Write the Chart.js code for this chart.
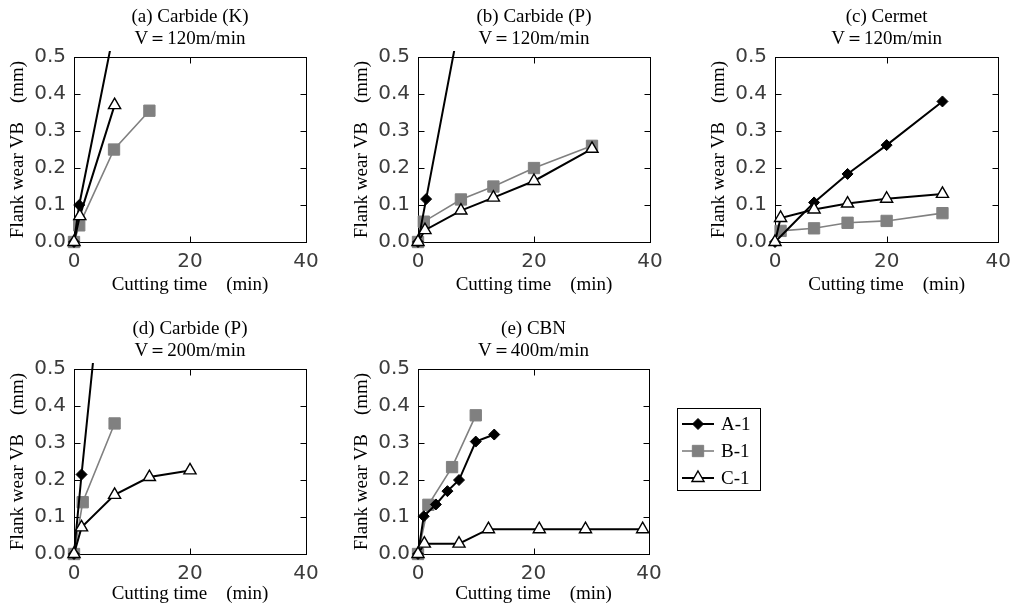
<!DOCTYPE html>
<html>
<head>
<meta charset="utf-8">
<script src="https://cdn.jsdelivr.net/npm/chart.js@4/dist/chart.umd.min.js"></script>
<style>
  html, body { margin: 0; padding: 0; background: #fff; overflow: hidden; }
  #page { position: relative; width: 1019px; height: 605px; }
  canvas { position: absolute; }
</style>
</head>
<body>
<div id="page">
  <canvas id="panelA" width="330" height="300" style="left:0px;top:0px"></canvas>
  <canvas id="panelB" width="340" height="300" style="left:340px;top:0px"></canvas>
  <canvas id="panelC" width="339" height="300" style="left:680px;top:0px"></canvas>
  <canvas id="panelD" width="330" height="300" style="left:0px;top:312px"></canvas>
  <canvas id="panelE" width="460" height="300" style="left:340px;top:312px"></canvas>
</div>
<script>
// axis ranges and tick labels
const timeTicks = [0, 20, 40];
const wearTicks = [0, 0.1, 0.2, 0.3, 0.4, 0.5];
const seriesNames = ['A-1', 'B-1', 'C-1'];

// (a) Carbide (K), V=120m/min
const aTimeA1 = [0, 0.9, 7];
const aWearA1 = [0, 0.10, 0.58];
const aTimeB1 = [0, 0.9, 6.9, 13];
const aWearB1 = [0, 0.045, 0.25, 0.355];
const aTimeC1 = [0, 1, 7];
const aWearC1 = [0, 0.07, 0.37];

// (b) Carbide (P), V=120m/min
const bTimeA1 = [0, 1.4, 7];
const bWearA1 = [0, 0.116, 0.58];
const bTimeB1 = [0, 1, 7.4, 13, 20, 30];
const bWearB1 = [0, 0.055, 0.115, 0.15, 0.2, 0.26];
const bTimeC1 = [0, 1.2, 7.4, 13, 20, 30];
const bWearC1 = [0, 0.032, 0.085, 0.12, 0.165, 0.252];

// (c) Cermet, V=120m/min
const cTimeA1 = [0, 7, 13, 20, 30];
const cWearA1 = [0, 0.107, 0.184, 0.262, 0.38];
const cTimeB1 = [1, 7, 13, 20, 30];
const cWearB1 = [0.03, 0.037, 0.052, 0.057, 0.078];
const cTimeC1 = [0, 1, 7, 13, 20, 30];
const cWearC1 = [0, 0.065, 0.088, 0.104, 0.117, 0.13];

// (d) Carbide (P), V=200m/min
const dTimeA1 = [0, 1.3, 7];
const dWearA1 = [0, 0.215, 1.09];
const dTimeB1 = [0, 1.5, 7];
const dWearB1 = [0, 0.14, 0.353];
const dTimeC1 = [0, 1.3, 7, 13, 20];
const dWearC1 = [0, 0.072, 0.16, 0.208, 0.226];

// (e) CBN, V=400m/min
const eTimeA1 = [0, 1, 3.1, 5.1, 7.1, 10, 13.2];
const eWearA1 = [0, 0.102, 0.134, 0.17, 0.2, 0.304, 0.323];
const eTimeB1 = [0, 1.8, 5.9, 10];
const eWearB1 = [0, 0.133, 0.235, 0.375];
const eTimeC1 = [0, 1.1, 7.1, 12.2, 21, 29, 38.9];
const eWearC1 = [0, 0.028, 0.028, 0.067, 0.067, 0.067, 0.067];

//marker and line look of each tool
const looks = {
  'A-1': { pointStyle: 'rectRot', radius: 5.5, fill: '#000', stroke: '#000', line: '#000', lineWidth: 2, pointBorder: 1, order: 1 },
  'B-1': { pointStyle: 'rect', radius: 8, fill: '#808080', stroke: '#808080', line: '#808080', lineWidth: 1.6, pointBorder: 1, order: 2 },
  'C-1': { pointStyle: 'triangle', radius: 7, fill: '#fff', stroke: '#000', line: '#000', lineWidth: 2, pointBorder: 1.4, order: 0 }
};

const serif = "'Liberation Serif', 'Times New Roman', serif";
const tickFont = { family: "'DejaVu Sans', sans-serif", size: 20, weight: 'normal' };
const labelFont = { family: serif, size: 19 };

const toPoints = (xs, ys) => xs.map((x, i) => ({ x: x, y: ys[i] }));

const makeDataset = (name, xs, ys) => {
  const l = looks[name];
  return {
    label: name,
    data: toPoints(xs, ys),
    borderColor: l.line,
    borderWidth: l.lineWidth,
    backgroundColor: l.fill,
    pointStyle: l.pointStyle,
    pointRadius: l.radius,
    pointBackgroundColor: l.fill,
    pointBorderColor: l.stroke,
    pointBorderWidth: l.pointBorder,
    tension: 0,
    order: l.order,
    clip: { left: 12, top: 6, right: 12, bottom: 12 }
  };
};

//box round the plot with inward ticks on all four sides
const framePlugin = {
  id: 'frame',
  beforeDatasetsDraw(chart) {
    const { ctx, chartArea: a, scales: { x, y } } = chart;
    const left = Math.round(a.left) + 0.5, right = Math.round(a.right) + 0.5;
    const top = Math.round(a.top) + 0.5, bottom = Math.round(a.bottom) + 0.5;
    ctx.save();
    ctx.strokeStyle = '#000';
    ctx.lineWidth = 1;
    ctx.strokeRect(left, top, right - left, bottom - top);
    ctx.beginPath();
    x.ticks.forEach(t => {
      if (t.value <= x.min || t.value >= x.max) return;
      const px = Math.round(x.getPixelForValue(t.value)) + 0.5;
      ctx.moveTo(px, bottom); ctx.lineTo(px, bottom - 6);
      ctx.moveTo(px, top); ctx.lineTo(px, top + 6);
    });
    y.ticks.forEach(t => {
      if (t.value <= y.min || t.value >= y.max - 1e-9) return;
      const py = Math.round(y.getPixelForValue(t.value)) + 0.5;
      ctx.moveTo(left, py); ctx.lineTo(left + 6, py);
      ctx.moveTo(right, py); ctx.lineTo(right - 6, py);
    });
    ctx.stroke();
    ctx.restore();
  }
};

//legend box to the right of panel (e)
const sideLegend = {
  id: 'sideLegend',
  afterDraw(chart) {
    const { ctx, chartArea: a } = chart;
    const left = Math.round(a.right) + 28, top = Math.round(a.top) + 39;
    ctx.save();
    ctx.strokeStyle = '#000';
    ctx.lineWidth = 1;
    ctx.strokeRect(left + 0.5, top + 0.5, 83, 82);
    chart.data.datasets.forEach((ds, i) => {
      const l = looks[ds.label];
      const cy = top + 16 + i * 27;
      ctx.strokeStyle = l.line;
      ctx.lineWidth = l.lineWidth;
      ctx.beginPath();
      ctx.moveTo(left + 5, cy);
      ctx.lineTo(left + 37, cy);
      ctx.stroke();
      ctx.fillStyle = l.fill;
      ctx.strokeStyle = l.stroke;
      ctx.lineWidth = l.pointBorder;
      Chart.helpers.drawPoint(ctx, { pointStyle: l.pointStyle, radius: l.radius, rotation: 0, borderWidth: l.pointBorder }, left + 21, cy);
      ctx.fillStyle = '#000';
      ctx.font = '19px ' + serif;
      ctx.textBaseline = 'middle';
      ctx.textAlign = 'left';
      ctx.fillText(ds.label, left + 44, cy + 1);
    });
    ctx.restore();
  }
};

function makePanel(id, titleLines, datasets, chartLeft, padRight, xTitleGap, extraPlugins) {
  return new Chart(document.getElementById(id), {
    type: 'line',
    data: { datasets: datasets },
    options: {
      responsive: false,
      animation: false,
      events: [],
      layout: { padding: { left: 0, right: padRight, top: 0, bottom: 0 } },
      plugins: {
        legend: { display: false },
        tooltip: { enabled: false },
        title: {
          display: true,
          text: titleLines,
          fullSize: false,
          color: '#000',
          font: { family: serif, size: 19, weight: 'normal', lineHeight: 1.16 },
          padding: { top: 6, bottom: 7 }
        }
      },
      scales: {
        x: {
          type: 'linear',
          min: timeTicks[0],
          max: timeTicks[timeTicks.length - 1],
          afterBuildTicks: s => { s.ticks = timeTicks.map(v => ({ value: v })); },
          ticks: { padding: 8, font: tickFont, color: '#3c3c3c', maxRotation: 0 },
          grid: { display: false, drawTicks: false },
          border: { display: false },
          title: { display: true, text: 'Cutting time\u2003(min)', color: '#000', font: labelFont, padding: { top: 0, bottom: xTitleGap } },
          afterFit: s => { s.height = 58; }
        },
        y: {
          type: 'linear',
          min: wearTicks[0],
          max: wearTicks[wearTicks.length - 1],
          afterBuildTicks: s => { s.ticks = wearTicks.map(v => ({ value: v })); },
          ticks: { padding: 8, font: tickFont, color: '#3c3c3c', callback: v => v.toFixed(1) },
          grid: { display: false, drawTicks: false },
          border: { display: false },
          title: { display: true, text: 'Flank wear VB\u2003(mm)', color: '#000', font: labelFont, padding: { top: chartLeft - 56 - 11.4, bottom: 0 } },
          afterFit: s => { s.width = chartLeft; }
        }
      }
    },
    plugins: [framePlugin].concat(extraPlugins || [])
  });
}

makePanel('panelA', ['(a) Carbide (K)', 'V\uFF1D120m/min'], [
  makeDataset('A-1', aTimeA1, aWearA1),
  makeDataset('B-1', aTimeB1, aWearB1),
  makeDataset('C-1', aTimeC1, aWearC1)
], 74, 24, 4);

makePanel('panelB', ['(b) Carbide (P)', 'V\uFF1D120m/min'], [
  makeDataset('A-1', bTimeA1, bWearA1),
  makeDataset('B-1', bTimeB1, bWearB1),
  makeDataset('C-1', bTimeC1, bWearC1)
], 78, 30, 4);

makePanel('panelC', ['(c) Cermet', 'V\uFF1D120m/min'], [
  makeDataset('A-1', cTimeA1, cWearA1),
  makeDataset('B-1', cTimeB1, cWearB1),
  makeDataset('C-1', cTimeC1, cWearC1)
], 95, 13, 4);

makePanel('panelD', ['(d) Carbide (P)', 'V\uFF1D200m/min'], [
  makeDataset('A-1', dTimeA1, dWearA1),
  makeDataset('B-1', dTimeB1, dWearB1),
  makeDataset('C-1', dTimeC1, dWearC1)
], 74, 24, 7);

makePanel('panelE', ['(e) CBN', 'V\uFF1D400m/min'], [
  makeDataset('A-1', eTimeA1, eWearA1),
  makeDataset('B-1', eTimeB1, eWearB1),
  makeDataset('C-1', eTimeC1, eWearC1)
], 78, 151, 7, [sideLegend]);
</script>
</body>
</html>
